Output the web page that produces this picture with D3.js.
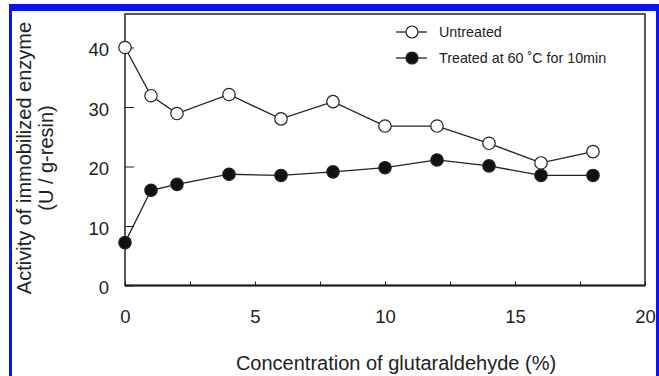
<!DOCTYPE html>
<html>
<head>
<meta charset="utf-8">
<script src="https://cdn.jsdelivr.net/npm/d3@7"></script>
<style>
  html, body { margin: 0; padding: 0; background: #fff; }
  svg { display: block; font-family: "Liberation Sans", Arial, sans-serif; }
</style>
</head>
<body>
<script>
  // glutaraldehyde concentration (%)
  const concentration = [0, 1, 2, 4, 6, 8, 10, 12, 14, 16, 18];
  // activity (U / g-resin)
  const untreated = [40, 31.9, 28.9, 32.1, 28.0, 30.9, 26.8, 26.8, 23.9, 20.6, 22.5];
  const treated = [7.2, 16.0, 17.0, 18.7, 18.5, 19.1, 19.8, 21.1, 20.1, 18.5, 18.5];
  const seriesNames = ['Untreated', 'Treated at 60 \u02DAC for 10min'];
  const xTickValues = [0, 2.5, 5, 7.5, 10, 12.5, 15, 17.5, 20];
  const yTickValues = [0, 10, 20, 30, 40];

  const width = 659;
  const height = 376;
  const margin = { top: 14, right: 14, bottom: 90.5, left: 125 };
  const ink = '#222';

  const svg = d3.select('body')
    .append('svg')
    .attr('width', width)
    .attr('height', height);

  // blue frame of the figure
  const blue = '#0a14f0';
  svg.append('rect').attr('x', 9).attr('y', 4).attr('width', 650).attr('height', 7).attr('fill', blue);
  svg.append('rect').attr('x', 9).attr('y', 4).attr('width', 3).attr('height', 372).attr('fill', blue);
  svg.append('rect').attr('x', 656).attr('y', 4).attr('width', 3).attr('height', 372).attr('fill', blue);

  const x = d3.scaleLinear()
    .domain([0, 20])
    .range([margin.left, width - margin.right]);

  const y = d3.scaleLinear()
    .domain([0, 40])
    .range([height - margin.bottom, 47.5]);

  const series = [
    { name: seriesNames[0], values: untreated, fill: '#fff' },
    { name: seriesNames[1], values: treated, fill: '#111' },
  ];

  // axes, ticks pointing inward
  const xAxis = svg.append('g')
    .attr('transform', `translate(0,${y(0)})`)
    .call(d3.axisBottom(x)
      .tickValues(xTickValues)
      .tickSizeInner(-4)
      .tickSizeOuter(0)
      .tickPadding(24)
      .tickFormat((d) => (d % 5 === 0 ? d : '')));

  const yAxis = svg.append('g')
    .attr('transform', `translate(${x(0)},0)`)
    .call(d3.axisLeft(y)
      .tickValues(yTickValues)
      .tickSizeInner(-9)
      .tickSizeOuter(0)
      .tickPadding(16));

  [xAxis, yAxis].forEach((g) => {
    g.select('.domain').remove();
    g.selectAll('line').attr('stroke', ink).attr('stroke-width', 1);
    g.selectAll('text')
      .attr('fill', ink)
      .style('font-size', '18.5px')
      .style('font-family', '"Liberation Sans", Arial, sans-serif');
  });
  yAxis.selectAll('text').attr('dy', '0.45em');

  // plot frame
  svg.append('rect')
    .attr('x', x(0))
    .attr('y', margin.top)
    .attr('width', x(20) - x(0))
    .attr('height', y(0) - margin.top)
    .attr('fill', 'none')
    .attr('stroke', ink)
    .attr('stroke-width', 1.5);
  svg.append('line')
    .attr('x1', x(0)).attr('x2', x(20))
    .attr('y1', y(0)).attr('y2', y(0))
    .attr('stroke', ink).attr('stroke-width', 2);

  const line = d3.line()
    .x((d) => x(d[0]))
    .y((d) => y(d[1]));

  series.forEach((s) => {
    const pts = concentration.map((c, i) => [c, s.values[i]]);
    svg.append('path')
      .datum(pts)
      .attr('d', line)
      .attr('fill', 'none')
      .attr('stroke', ink)
      .attr('stroke-width', 1.3);
    svg.append('g')
      .selectAll('circle')
      .data(pts)
      .join('circle')
      .attr('cx', (d) => x(d[0]))
      .attr('cy', (d) => y(d[1]))
      .attr('r', 6.2)
      .attr('fill', s.fill)
      .attr('stroke', ink)
      .attr('stroke-width', 1.2);
  });

  // legend
  const legend = svg.append('g').attr('transform', 'translate(396,32)');
  series.forEach((s, i) => {
    const row = legend.append('g').attr('transform', `translate(0,${i * 26})`);
    row.append('line')
      .attr('x1', 0).attr('x2', 31)
      .attr('stroke', ink).attr('stroke-width', 1.3);
    row.append('circle')
      .attr('cx', 16).attr('r', 6)
      .attr('fill', s.fill)
      .attr('stroke', ink)
      .attr('stroke-width', 1.2);
    row.append('text')
      .attr('x', 43)
      .attr('dy', '0.36em')
      .attr('fill', ink)
      .style('font-size', '14.3px')
      .text(s.name);
  });

  // axis titles
  svg.append('text')
    .attr('x', 396)
    .attr('y', 370)
    .attr('text-anchor', 'middle')
    .attr('fill', ink)
    .style('font-size', '20px')
    .text('Concentration of glutaraldehyde (%)');

  const yTitle = svg.append('text')
    .attr('transform', 'translate(0,158) rotate(-90)')
    .attr('text-anchor', 'middle')
    .attr('fill', ink)
    .style('font-size', '20px');
  yTitle.append('tspan').attr('x', 0).attr('y', 31).text('Activity of immobilized enzyme');
  yTitle.append('tspan').attr('x', 0).attr('y', 53).text('(U / g-resin)');
</script>
</body>
</html>
